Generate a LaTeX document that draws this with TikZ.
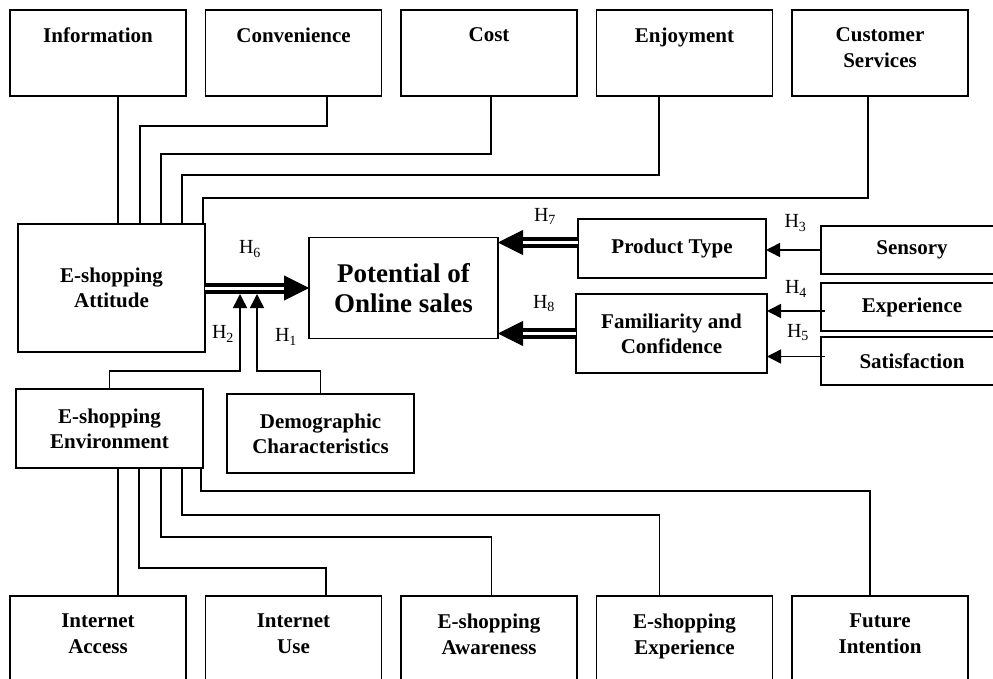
\documentclass[tikz,border=0pt]{standalone}
\usepackage{fontspec}
\setmainfont{Liberation Serif}
\usetikzlibrary{positioning, arrows.meta}

\begin{document}
\begin{tikzpicture}[x=1pt, y=1pt, line width=1.5pt, every node/.style={align=center},
    box/.style={draw, line width=1.8pt, inner sep=0pt, outer sep=0pt, font=\bfseries\fontsize{21}{25}\selectfont},
    topbox/.style={box, minimum width=176pt, minimum height=86pt},
    boxtext/.style={anchor=north, yshift=-17pt, inner sep=0pt, font=\bfseries\fontsize{21}{26}\selectfont},
    arr/.style={-{Triangle[length=14pt, width=14pt]}, line width=1.5pt},
    dblarr/.style={-{Triangle[length=25pt, width=25pt]}, line width=1pt,
        postaction={draw, -, double, double distance=3pt, line width=4pt, shorten >=25pt}},
    hlab/.style={inner sep=0pt, font=\fontsize{20}{24}\selectfont}]
    \useasboundingbox (0,0) rectangle (993,-679);
    \clip (0,0) rectangle (993,-679);

    % Attitude factors
    \node (info) [topbox, label={[boxtext]north:Information}] at (98,-53) {};
    \node (conv) [topbox, right=19.5pt of info, label={[boxtext]north:Convenience}] {};
    \node (cost) [topbox, right=19.5pt of conv, label={[boxtext]north:Cost}] {};
    \node (enj) [topbox, right=19.5pt of cost, label={[boxtext]north:Enjoyment}] {};
    \node (cust) [topbox, right=19.5pt of enj, label={[boxtext]north:{Customer\\Services}}] {};

    % Environment factors
    \node (acc) [topbox, label={[boxtext]north:{Internet\\Access}}] at (98,-639) {};
    \node (use) [topbox, right=19.5pt of acc, label={[boxtext]north:{Internet\\Use}}] {};
    \node (aware) [topbox, right=19.5pt of use, label={[boxtext]north:{E-shopping\\Awareness}}] {};
    \node (eexp) [topbox, right=19.5pt of aware, label={[boxtext]north:{E-shopping\\Experience}}] {};
    \node (fut) [topbox, right=19.5pt of eexp, label={[boxtext]north:{Future\\Intention}}] {};

    % Core model
    \node (att) [box, minimum width=187pt, minimum height=128pt] at (111.5,-288) {E-shopping\\Attitude};
    \node (pot) [box, right=104pt of att, minimum width=189pt, minimum height=101pt,
        font=\bfseries\fontsize{27}{30}\selectfont] {Potential of\\Online sales};
    \node (env) [box, minimum width=187pt, minimum height=79pt] at (109.5,-428.5) {E-shopping\\Environment};
    \node (demo) [box, right=24pt of env, yshift=-5pt, minimum width=187pt, minimum height=79pt] {Demographic\\Characteristics};

    % Product side
    \node (pt) [box, minimum width=188pt, minimum height=59pt] at (672,-248.5) {Product Type};
    \node (fam) [box, minimum width=191pt, minimum height=79pt] at (671.5,-333.5) {Familiarity and\\Confidence};
    \node (sens) [box, minimum width=182pt, minimum height=48pt] at (912,-250) {Sensory};
    \node (exper) [box, below=9pt of sens, minimum width=182pt, minimum height=48pt] {Experience};
    \node (sat) [box, below=6pt of exper, minimum width=182pt, minimum height=48pt] {Satisfaction};

    % Links into attitude
    \coordinate (k1) at ([xshift=20pt]info.south);
    \coordinate (k2) at ([xshift=33.5pt]conv.south);
    \coordinate (k3) at ([xshift=2pt]cost.south);
    \coordinate (k4) at ([xshift=-25.5pt]enj.south);
    \coordinate (k5) at ([xshift=-12pt]cust.south);
    \coordinate (a2) at ([xshift=-65pt]att.north east);
    \coordinate (a3) at ([xshift=-44pt]att.north east);
    \coordinate (a4) at ([xshift=-23pt]att.north east);
    \coordinate (a5) at ([xshift=-2pt]att.north east);
    \draw (k1) -- (k1 |- att.north);
    \draw (k2) -- ++(0,-30) -| (a2);
    \draw (k3) -- ++(0,-58) -| (a3);
    \draw (k4) -- ++(0,-79) -| (a4);
    \draw (k5) -- ++(0,-102) -| (a5);

    % Links out of environment
    \coordinate (e1) at ([xshift=8.5pt]env.south);
    \coordinate (e2) at ([xshift=29.5pt]env.south);
    \coordinate (e3) at ([xshift=51.5pt]env.south);
    \coordinate (e4) at ([xshift=72.5pt]env.south);
    \coordinate (e5) at ([xshift=91.5pt]env.south);
    \draw (e1) -- (e1 |- acc.north);
    \draw (e2) -- ++(0,-100) -| ([xshift=32.5pt]use.north);
    \draw (e3) -- ++(0,-69) -| ([xshift=2.5pt]aware.north);
    \draw (e4) -- ++(0,-47) -| ([xshift=-25pt]eexp.north);
    \draw (e5) -- ++(0,-23) -| ([xshift=-10pt]fut.north);

    % Hypotheses
    \draw[dblarr] (att.east) -- node (h6) [hlab, midway, xshift=-7pt, yshift=39pt] {H\textsubscript{6}} (pot.west);
    \coordinate (p7) at ([yshift=6pt]pt.west);
    \draw[dblarr] (p7) -- node (h7) [hlab, midway, xshift=7pt, yshift=26pt] {H\textsubscript{7}} (p7 -| pot.east);
    \draw[dblarr] (fam.west) -- node (h8) [hlab, midway, xshift=7pt, yshift=30pt] {H\textsubscript{8}} (fam.west -| pot.east);
    \draw[arr] (sens.west) -- node (h3) [hlab, midway, xshift=2pt, yshift=27pt] {H\textsubscript{3}} (sens.west -| pt.east);
    \coordinate (p4) at ([xshift=4pt, yshift=-4pt]exper.west);
    \draw[arr] (p4) -- node (h4) [hlab, midway, yshift=22pt] {H\textsubscript{4}} (p4 -| fam.east);
    \coordinate (p5) at ([xshift=4pt, yshift=4.5pt]sat.west);
    \draw[arr] (p5) -- node (h5) [hlab, midway, xshift=2pt, yshift=24pt] {H\textsubscript{5}} (p5 -| fam.east);
    \coordinate (t2) at ([xshift=35pt, yshift=-6pt]att.east);
    \coordinate (t1) at ([xshift=52pt, yshift=-6pt]att.east);
    \draw[arr] (env.north) -- ++(0,18) -| (t2);
    \draw[arr] (demo.north) -- ++(0,23) -| (t1);
    \node (h2) [hlab] at ([xshift=-17pt, yshift=-40pt]t2) {H\textsubscript{2}};
    \node (h1) [hlab] at ([xshift=29pt, yshift=-43pt]t1) {H\textsubscript{1}};
\end{tikzpicture}
\end{document}
